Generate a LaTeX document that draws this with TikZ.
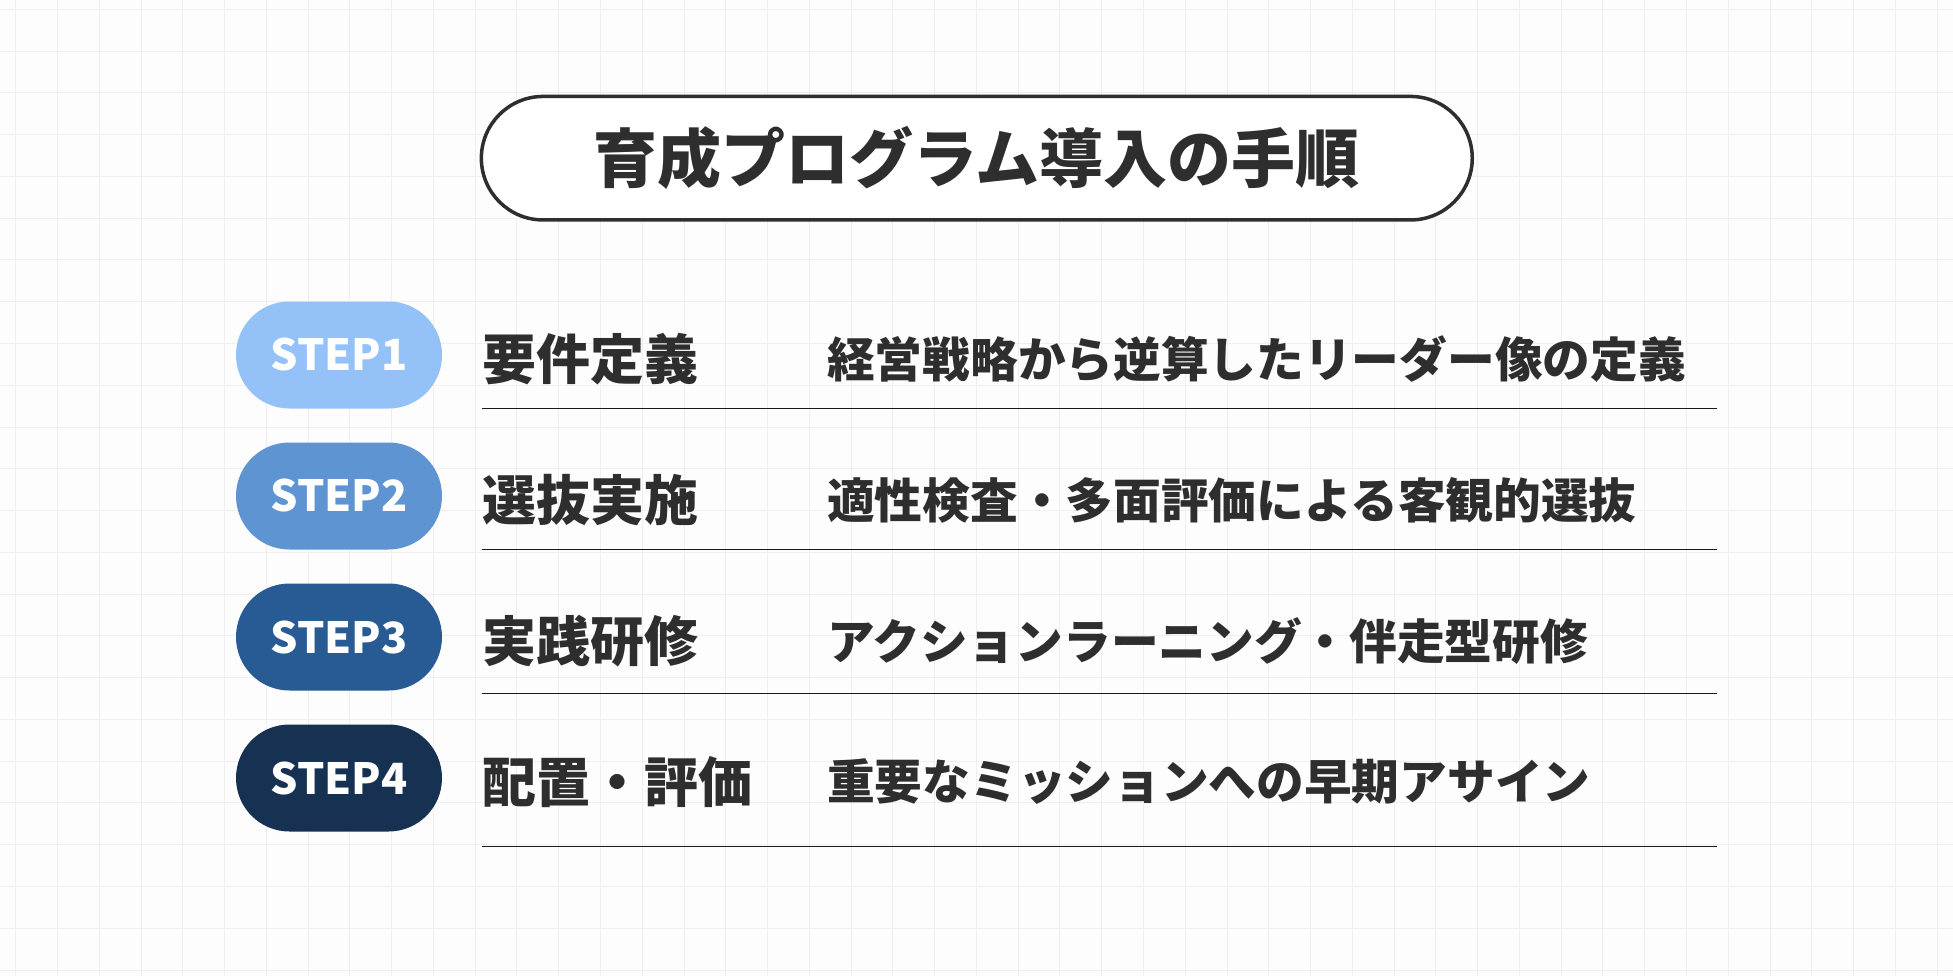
\documentclass[tikz,border=0pt]{standalone}
\usepackage{fontspec}
\newfontfamily\jpfont{Noto Sans CJK JP}

\definecolor{ink}{HTML}{2E2E2E}
\definecolor{paper}{HTML}{FDFDFD}
\definecolor{gridgray}{HTML}{EFEFEF}
\definecolor{stepA}{HTML}{94C2F8}
\definecolor{stepB}{HTML}{5F94D2}
\definecolor{stepC}{HTML}{285A94}
\definecolor{stepD}{HTML}{173152}

\tikzset{
  gridline/.style={draw=gridgray, line width=1pt},
  titlebox/.style={draw=ink, line width=3.5pt, fill=white, rounded corners=61.7pt,
    minimum width=990.9pt, minimum height=123.5pt, inner sep=0pt,
    text=ink, font=\jpfont\bfseries\fontsize{64}{64}\selectfont},
  stepbox/.style={rectangle, rounded corners=53.4pt, minimum width=206pt,
    minimum height=107pt, inner sep=0pt, text=white,
    font=\jpfont\bfseries\fontsize{43}{43}\selectfont},
  labeltext/.style={anchor=west, inner sep=0pt, text=ink,
    font=\jpfont\bfseries\fontsize{54}{54}\selectfont},
  desctext/.style={anchor=west, inner sep=0pt, text=ink,
    font=\jpfont\bfseries\fontsize{47.7}{47.7}\selectfont},
  rowline/.style={draw=black!90, line width=1.3pt}
}

\begin{document}
\begin{tikzpicture}[x=1pt, y=-1pt]
\useasboundingbox [fill=paper] (0,0) rectangle (1953,976);
\draw [gridline, step=41.77pt, shift={(15.7pt,-9.3pt)}] (-20,990) grid (1960,-20);

\node [titlebox] (title) at (976.8,158.2) {育成プログラム導入の手順};

\node [stepbox, fill=stepA] (step1) at (339,355) {STEP1};
\node [labeltext] (label1) at (482,359) {要件定義};
\node [desctext] (desc1) at (827,359) {経営戦略から逆算したリーダー像の定義};
\draw [rowline] (482,408.3) -- (1717,408.3);

\node [stepbox, fill=stepB] (step2) at (339,496) {STEP2};
\node [labeltext] (label2) at (482,500) {選抜実施};
\node [desctext] (desc2) at (827,500) {適性検査・多面評価による客観的選抜};
\draw [rowline] (482,549.3) -- (1717,549.3);

\node [stepbox, fill=stepC] (step3) at (339,637) {STEP3};
\node [labeltext] (label3) at (482,641) {実践研修};
\node [desctext] (desc3) at (827,641) {アクションラーニング・伴走型研修};
\draw [rowline] (482,693.3) -- (1717,693.3);

\node [stepbox, fill=stepD] (step4) at (339,778) {STEP4};
\node [labeltext] (label4) at (482,782) {配置・評価};
\node [desctext] (desc4) at (827,782) {重要なミッションへの早期アサイン};
\draw [rowline] (482,846.7) -- (1717,846.7);

\end{tikzpicture}
\end{document}
